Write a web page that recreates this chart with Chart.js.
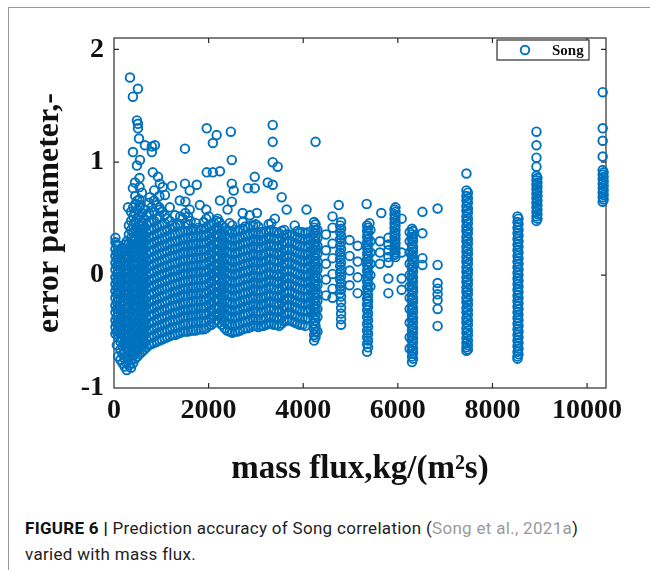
<!DOCTYPE html>
<html><head><meta charset="utf-8">
<script src="https://cdn.jsdelivr.net/npm/chart.js@4.4.1/dist/chart.umd.min.js"></script>
<style>
html,body{margin:0;padding:0;background:#fff;width:650px;height:570px;overflow:hidden;}
#frame{position:absolute;left:8px;top:7px;width:660px;height:580px;border-left:1px solid #999;border-top:1px solid #999;}
#wrap{position:absolute;left:0;top:0;width:650px;height:500px;}
#cap{position:absolute;left:25px;top:515px;font-family:Roboto,'Liberation Sans',sans-serif;font-size:17px;letter-spacing:0.3px;line-height:26px;color:#222;}
#cap b{color:#111;}
#cap span{color:#9a9a9a;}
</style></head><body>
<div id="frame"></div>
<div id="wrap"><canvas id="c" width="650" height="500"></canvas></div>
<div id="cap"><b>FIGURE 6 |</b> Prediction accuracy of Song correlation (<span>Song et al., 2021a</span>)<br>varied with mass flux.</div>
<script>
const seriesName = 'Song';
const xTicks = [0, 2000, 4000, 6000, 8000, 10000];
const yTicks = [-1, 0, 1, 2];

// mass flux of each vertical group of measurements
const columnFlux = [30,90,180,270,360,450,540,640,740,850,960,1070,1180,1290,1400,1510,1620,1730,1840,1950,2060,2170,2280,2390,2500,2610,2720,2830,2940,3050,3160,3270,3380,3490,3600,3710,3820,3930,4040,4150,
  4230,4300,4480,4620,4800,4980,5150,5350,5420,5620,5800,5950,6080,6250,6300,6520,6840,7450,8530,8930,10330];

// error parameter values in each group (same order as columnFlux)
const columnError = [
[-0.52,-0.46,-0.4,-0.33,-0.27,-0.2,-0.14,-0.08,-0.02,0.05,0.11,0.17,0.23,0.29,0.33],
[-0.72,-0.55,-0.49,-0.42,-0.36,-0.3,-0.22,-0.16,-0.1,-0.04,0.02,0.09,0.15,0.2,0.26],
[-0.78,-0.7,-0.63,-0.57,-0.5,-0.44,-0.38,-0.31,-0.25,-0.19,-0.12,-0.06,0.0,0.07,0.13,0.2,0.24],
[-0.84,-0.78,-0.72,-0.65,-0.59,-0.53,-0.47,-0.4,-0.34,-0.28,-0.21,-0.15,-0.09,-0.02,0.04,0.1,0.17,0.23,0.3],
[-0.82,-0.75,-0.68,-0.62,-0.56,-0.5,-0.43,-0.37,-0.31,-0.24,-0.18,-0.12,-0.05,0.01,0.07,0.14,0.2,0.27,0.33,0.4,0.48,0.56],
[-0.74,-0.68,-0.61,-0.55,-0.49,-0.42,-0.36,-0.3,-0.23,-0.17,-0.11,-0.04,0.02,0.08,0.15,0.21,0.27,0.34,0.4,0.47,0.55,0.63,0.7],
[-0.7,-0.64,-0.58,-0.51,-0.45,-0.39,-0.32,-0.26,-0.2,-0.13,-0.07,-0.01,0.06,0.12,0.18,0.25,0.31,0.37,0.44,0.52,0.6,0.67,0.78,0.86],
[-0.66,-0.6,-0.53,-0.47,-0.41,-0.34,-0.28,-0.22,-0.15,-0.09,-0.03,0.04,0.1,0.16,0.23,0.29,0.35,0.42,0.5,0.58],
[-0.62,-0.55,-0.49,-0.43,-0.36,-0.3,-0.24,-0.17,-0.11,-0.05,0.02,0.08,0.14,0.21,0.27,0.33,0.4,0.47,0.55,0.64],
[-0.6,-0.54,-0.47,-0.41,-0.35,-0.28,-0.22,-0.16,-0.09,-0.03,0.03,0.1,0.16,0.22,0.29,0.35,0.41,0.48,0.56,0.66,0.75],
[-0.58,-0.51,-0.45,-0.39,-0.32,-0.26,-0.2,-0.13,-0.07,-0.01,0.06,0.12,0.18,0.25,0.31,0.37,0.44,0.52,0.6,0.7],
[-0.56,-0.5,-0.43,-0.37,-0.31,-0.24,-0.18,-0.12,-0.05,0.01,0.07,0.14,0.2,0.26,0.33,0.39,0.46,0.53],
[-0.54,-0.48,-0.41,-0.35,-0.29,-0.22,-0.16,-0.1,-0.03,0.03,0.09,0.16,0.22,0.28,0.35,0.41,0.48,0.6],
[-0.53,-0.46,-0.4,-0.34,-0.27,-0.21,-0.15,-0.08,-0.02,0.04,0.11,0.17,0.23,0.3,0.36,0.43],
[-0.51,-0.45,-0.38,-0.32,-0.26,-0.19,-0.13,-0.07,0.0,0.06,0.12,0.19,0.25,0.31,0.38,0.45,0.52],
[-0.5,-0.44,-0.37,-0.31,-0.25,-0.18,-0.12,-0.06,0.01,0.07,0.13,0.2,0.26,0.32,0.39,0.46,0.55,0.65],
[-0.49,-0.43,-0.36,-0.3,-0.24,-0.17,-0.11,-0.05,0.02,0.08,0.14,0.21,0.27,0.33,0.4,0.48],
[-0.49,-0.42,-0.36,-0.3,-0.23,-0.17,-0.11,-0.04,0.02,0.08,0.15,0.21,0.27,0.34,0.4,0.46],
[-0.48,-0.42,-0.35,-0.29,-0.23,-0.16,-0.1,-0.04,0.03,0.09,0.15,0.22,0.28,0.34,0.41],
[-0.47,-0.41,-0.35,-0.28,-0.22,-0.16,-0.09,-0.03,0.03,0.1,0.16,0.22,0.29,0.35,0.42,0.5,0.58],
[-0.44,-0.38,-0.31,-0.25,-0.19,-0.12,-0.06,0.0,0.07,0.13,0.19,0.26,0.32,0.38,0.45],
[-0.4,-0.34,-0.28,-0.21,-0.15,-0.09,-0.02,0.04,0.1,0.17,0.23,0.29,0.36,0.42,0.48],
[-0.44,-0.38,-0.32,-0.25,-0.19,-0.13,-0.06,0.0,0.06,0.13,0.19,0.25,0.32,0.38,0.44],
[-0.49,-0.43,-0.36,-0.3,-0.24,-0.17,-0.11,-0.05,0.02,0.08,0.14,0.21,0.27,0.33,0.4],
[-0.51,-0.45,-0.38,-0.32,-0.26,-0.19,-0.13,-0.07,0.0,0.06,0.12,0.19,0.25,0.31,0.38,0.44],
[-0.5,-0.44,-0.37,-0.31,-0.25,-0.18,-0.12,-0.06,0.01,0.07,0.13,0.2,0.26,0.32,0.39],
[-0.48,-0.42,-0.35,-0.29,-0.23,-0.16,-0.1,-0.04,0.03,0.09,0.15,0.22,0.28,0.34,0.41,0.47],
[-0.47,-0.41,-0.34,-0.28,-0.22,-0.15,-0.09,-0.03,0.04,0.1,0.16,0.23,0.29,0.35,0.42],
[-0.45,-0.39,-0.32,-0.26,-0.2,-0.13,-0.07,-0.01,0.06,0.12,0.18,0.25,0.31,0.37,0.44],
[-0.46,-0.4,-0.33,-0.27,-0.21,-0.14,-0.08,-0.02,0.05,0.11,0.17,0.24,0.3,0.36,0.43],
[-0.45,-0.39,-0.32,-0.26,-0.2,-0.13,-0.07,-0.01,0.06,0.12,0.18,0.25,0.31,0.37],
[-0.43,-0.37,-0.3,-0.24,-0.18,-0.11,-0.05,0.01,0.08,0.14,0.2,0.27,0.33,0.39,0.45],
[-0.44,-0.38,-0.31,-0.25,-0.19,-0.12,-0.06,0.0,0.07,0.13,0.19,0.26,0.32,0.38],
[-0.45,-0.39,-0.32,-0.26,-0.2,-0.13,-0.07,-0.01,0.06,0.12,0.18,0.25,0.31,0.37],
[-0.41,-0.35,-0.28,-0.22,-0.16,-0.09,-0.03,0.03,0.1,0.16,0.22,0.29,0.35,0.4],
[-0.4,-0.34,-0.27,-0.21,-0.15,-0.08,-0.02,0.04,0.11,0.17,0.23,0.3,0.36],
[-0.42,-0.36,-0.29,-0.23,-0.17,-0.1,-0.04,0.02,0.09,0.15,0.21,0.28,0.34],
[-0.44,-0.38,-0.31,-0.25,-0.19,-0.12,-0.06,0.0,0.07,0.13,0.19,0.26,0.32,0.38],
[-0.45,-0.39,-0.32,-0.26,-0.2,-0.13,-0.07,-0.01,0.06,0.12,0.18,0.25,0.31,0.37],
[-0.3,-0.24,-0.17,-0.11,-0.05,0.02,0.08,0.14,0.21,0.27,0.33],
[0.47,0.42,0.37,0.32,0.27,0.22,0.17,0.12,0.07,0.02,-0.03,-0.08,-0.13,-0.18,-0.23,-0.28,-0.33,-0.38,-0.43,-0.48,-0.53,-0.58],
[0.4,0.33,0.26,0.19,0.12,0.05,-0.02,-0.09,-0.16,-0.23,-0.3,-0.37,-0.5],
[0.36,0.22,0.1,-0.04,-0.18],
[0.42,0.28,0.15,0.01,-0.12,-0.2],
[0.47,0.41,0.35,0.29,0.23,0.17,0.11,0.05,-0.01,-0.07,-0.13,-0.19,-0.24,-0.29,-0.34,-0.39,-0.44],
[0.31,0.17,0.04,-0.09],
[0.26,0.12,-0.02,-0.16],
[0.44,0.39,0.34,0.29,0.24,0.19,0.14,0.09,0.04,-0.01,-0.06,-0.11,-0.16,-0.21,-0.26,-0.31,-0.37,-0.43,-0.49,-0.55,-0.61,-0.68],
[0.4,0.3,0.2,0.1,0.0,-0.1],
[0.3,0.2,0.1],
[0.33,0.27,0.22,0.16,0.11,-0.03,-0.16],
[0.6,0.56,0.52,0.48,0.44,0.4,0.36,0.32,0.28,0.24,0.2,0.16],
[0.5,0.2,-0.03,-0.13],
[0.38,0.3,0.2,0.1,0.0,-0.1,-0.2,-0.3,-0.42,-0.55,-0.65],
[0.41,0.36,0.32,0.27,0.23,0.18,0.14,0.09,0.05,0.0,-0.04,-0.09,-0.13,-0.18,-0.22,-0.27,-0.31,-0.36,-0.4,-0.45,-0.49,-0.54,-0.58,-0.63,-0.67,-0.72,-0.77],
[0.56,0.37,0.15,0.09],
[0.59,0.09,-0.07,-0.12,-0.17,-0.22,-0.3,-0.45],
[0.9,0.75,0.7,0.66,0.61,0.57,0.52,0.48,0.43,0.39,0.34,0.3,0.25,0.21,0.16,0.12,0.07,0.03,-0.02,-0.06,-0.11,-0.15,-0.2,-0.24,-0.29,-0.33,-0.38,-0.42,-0.47,-0.51,-0.56,-0.6,-0.64,-0.67],
[0.52,0.47,0.42,0.37,0.32,0.27,0.22,0.17,0.12,0.07,0.02,-0.03,-0.08,-0.13,-0.18,-0.23,-0.28,-0.33,-0.38,-0.43,-0.48,-0.53,-0.58,-0.63,-0.68,-0.72,-0.74],
[1.27,1.15,1.04,0.96,0.88,0.84,0.8,0.76,0.72,0.68,0.64,0.6,0.56,0.52,0.48],
[1.62,1.3,1.19,1.05,0.93,0.89,0.85,0.81,0.77,0.73,0.69,0.65]
];

// second, interleaved set of measurement groups
const columnFlux2 = [60,135,225,315,405,495,590,690,795,905,1015,1125,1235,1345,1455,1565,1675,1785,1895,2005,2115,2225,2335,2445,2555,2665,2775,2885,2995,3105,3215,3325,3435,3545,3655,3765,3875,3985,4095,
  4260,4780,5370,5930,6320,7480,8550,8950,10350];

const columnError2 = [
[-0.62,-0.5,-0.43,-0.37,-0.3,-0.24,-0.17,-0.11,-0.05,0.01,0.08,0.14,0.2,0.27],
[-0.75,-0.66,-0.59,-0.52,-0.46,-0.39,-0.33,-0.27,-0.2,-0.14,-0.08,-0.01,0.05,0.11,0.18,0.22],
[-0.81,-0.74,-0.68,-0.61,-0.55,-0.49,-0.42,-0.36,-0.3,-0.23,-0.17,-0.11,-0.04,0.02,0.08,0.15,0.21,0.27],
[-0.8,-0.74,-0.67,-0.61,-0.55,-0.48,-0.42,-0.36,-0.29,-0.23,-0.17,-0.1,-0.04,0.02,0.09,0.15,0.21,0.28,0.36,0.44],
[-0.78,-0.71,-0.65,-0.59,-0.52,-0.46,-0.4,-0.33,-0.27,-0.21,-0.14,-0.08,-0.02,0.05,0.11,0.17,0.24,0.3,0.37,0.44,0.52,0.6],
[-0.72,-0.66,-0.6,-0.53,-0.47,-0.41,-0.34,-0.28,-0.22,-0.15,-0.09,-0.03,0.04,0.1,0.16,0.23,0.29,0.36,0.42,0.5,0.58,0.66],
[-0.68,-0.62,-0.55,-0.49,-0.43,-0.36,-0.3,-0.24,-0.17,-0.11,-0.05,0.02,0.08,0.14,0.21,0.27,0.33,0.4,0.47,0.55],
[-0.64,-0.57,-0.51,-0.45,-0.38,-0.32,-0.26,-0.19,-0.13,-0.07,0.0,0.06,0.12,0.19,0.25,0.31,0.38,0.45,0.53],
[-0.61,-0.55,-0.48,-0.42,-0.36,-0.29,-0.23,-0.17,-0.1,-0.04,0.02,0.09,0.15,0.21,0.28,0.34,0.4,0.47,0.6],
[-0.59,-0.52,-0.46,-0.4,-0.33,-0.27,-0.21,-0.14,-0.08,-0.02,0.05,0.11,0.17,0.24,0.3,0.36,0.43,0.5,0.62],
[-0.57,-0.5,-0.44,-0.38,-0.31,-0.25,-0.19,-0.12,-0.06,0.0,0.07,0.13,0.19,0.26,0.32,0.38,0.45,0.56],
[-0.55,-0.49,-0.42,-0.36,-0.3,-0.23,-0.17,-0.11,-0.04,0.02,0.08,0.15,0.21,0.27,0.34,0.4,0.5],
[-0.53,-0.47,-0.4,-0.34,-0.28,-0.21,-0.15,-0.09,-0.02,0.04,0.1,0.17,0.23,0.29,0.36,0.44],
[-0.52,-0.46,-0.39,-0.33,-0.27,-0.2,-0.14,-0.08,-0.01,0.05,0.11,0.18,0.24,0.3,0.37,0.45],
[-0.5,-0.44,-0.37,-0.31,-0.25,-0.18,-0.12,-0.06,0.01,0.07,0.13,0.2,0.26,0.32,0.39,0.5],
[-0.5,-0.43,-0.37,-0.31,-0.24,-0.18,-0.12,-0.05,0.01,0.07,0.14,0.2,0.26,0.33,0.39,0.45,0.52],
[-0.49,-0.42,-0.36,-0.3,-0.23,-0.17,-0.11,-0.04,0.02,0.08,0.15,0.21,0.27,0.34,0.41],
[-0.48,-0.42,-0.35,-0.29,-0.23,-0.16,-0.1,-0.04,0.03,0.09,0.15,0.22,0.28,0.34,0.42],
[-0.48,-0.41,-0.35,-0.29,-0.22,-0.16,-0.1,-0.03,0.03,0.09,0.16,0.22,0.28,0.35,0.41,0.47],
[-0.45,-0.39,-0.33,-0.26,-0.2,-0.14,-0.07,-0.01,0.05,0.12,0.18,0.24,0.31,0.37,0.44,0.52],
[-0.42,-0.36,-0.3,-0.23,-0.17,-0.11,-0.04,0.02,0.08,0.15,0.21,0.27,0.34,0.4,0.46],
[-0.42,-0.36,-0.29,-0.23,-0.17,-0.1,-0.04,0.02,0.09,0.15,0.21,0.28,0.34,0.41,0.47],
[-0.47,-0.41,-0.34,-0.28,-0.22,-0.15,-0.09,-0.03,0.04,0.1,0.16,0.23,0.29,0.35,0.42],
[-0.5,-0.44,-0.37,-0.31,-0.25,-0.18,-0.12,-0.06,0.01,0.07,0.13,0.2,0.26,0.32,0.39,0.46],
[-0.5,-0.44,-0.37,-0.31,-0.25,-0.18,-0.12,-0.06,0.01,0.07,0.13,0.2,0.26,0.32,0.4],
[-0.49,-0.43,-0.36,-0.3,-0.24,-0.17,-0.11,-0.05,0.02,0.08,0.14,0.21,0.27,0.33,0.4],
[-0.47,-0.41,-0.35,-0.28,-0.22,-0.16,-0.09,-0.03,0.03,0.1,0.16,0.22,0.29,0.35,0.43],
[-0.46,-0.4,-0.33,-0.27,-0.21,-0.14,-0.08,-0.02,0.05,0.11,0.17,0.24,0.3,0.36,0.44],
[-0.45,-0.39,-0.33,-0.26,-0.2,-0.14,-0.07,-0.01,0.05,0.12,0.18,0.24,0.31,0.37,0.45],
[-0.45,-0.39,-0.33,-0.26,-0.2,-0.14,-0.07,-0.01,0.05,0.12,0.18,0.24,0.31,0.38],
[-0.44,-0.38,-0.31,-0.25,-0.19,-0.12,-0.06,0.0,0.07,0.13,0.19,0.26,0.32,0.39],
[-0.43,-0.37,-0.31,-0.24,-0.18,-0.12,-0.05,0.01,0.07,0.14,0.2,0.26,0.33,0.4,0.46],
[-0.44,-0.38,-0.32,-0.25,-0.19,-0.13,-0.06,0.0,0.06,0.13,0.19,0.25,0.32,0.38],
[-0.43,-0.37,-0.3,-0.24,-0.18,-0.11,-0.05,0.01,0.08,0.14,0.2,0.27,0.33,0.39],
[-0.4,-0.34,-0.28,-0.21,-0.15,-0.09,-0.02,0.04,0.1,0.17,0.23,0.29,0.36],
[-0.41,-0.35,-0.28,-0.22,-0.16,-0.09,-0.03,0.03,0.1,0.16,0.22,0.29,0.35],
[-0.43,-0.37,-0.3,-0.24,-0.18,-0.11,-0.05,0.01,0.08,0.14,0.2,0.27,0.33,0.39],
[-0.44,-0.38,-0.32,-0.25,-0.19,-0.13,-0.06,0.0,0.06,0.13,0.19,0.25,0.32,0.38],
[-0.38,-0.32,-0.25,-0.19,-0.13,-0.06,0.0,0.06,0.13,0.19,0.25,0.32,0.38],
[0.45,0.4,0.35,0.3,0.25,0.2,0.15,0.1,0.05,0.0,-0.05,-0.1,-0.15,-0.2,-0.25,-0.3,-0.35,-0.4,-0.45,-0.5,-0.55],
[0.44,0.38,0.32,0.26,0.2,0.14,0.08,0.02,-0.04,-0.1,-0.16],
[0.42,0.37,0.32,0.27,0.22,0.17,0.12,0.07,0.02,-0.03,-0.08,-0.13,-0.18,-0.23,-0.28,-0.34,-0.4,-0.46,-0.52,-0.58,-0.64],
[0.58,0.54,0.5,0.46,0.42,0.38,0.34,0.3,0.26,0.22,0.18],
[0.39,0.34,0.3,0.25,0.21,0.16,0.12,0.07,0.03,-0.02,-0.06,-0.11,-0.15,-0.2,-0.24,-0.29,-0.33,-0.38,-0.42,-0.47,-0.51,-0.56,-0.6,-0.65,-0.69,-0.74],
[0.73,0.68,0.64,0.59,0.55,0.5,0.46,0.41,0.37,0.32,0.28,0.23,0.19,0.14,0.1,0.05,0.01,-0.04,-0.08,-0.13,-0.17,-0.22,-0.26,-0.31,-0.35,-0.4,-0.44,-0.49,-0.53,-0.58,-0.62,-0.66],
[0.5,0.45,0.4,0.35,0.3,0.25,0.2,0.15,0.1,0.05,0.0,-0.05,-0.1,-0.15,-0.2,-0.25,-0.3,-0.35,-0.4,-0.45,-0.5,-0.55,-0.6,-0.65,-0.7],
[0.86,0.82,0.78,0.74,0.7,0.66,0.62,0.58,0.54,0.5],
[0.91,0.87,0.83,0.79,0.75,0.71,0.67]
];

// isolated points [mass flux, error parameter]
const scatterPairs = [
[506,2.18],[338,1.75],[506,1.65],[400,1.58],[485,1.37],[506,1.34],[506,1.3],[528,1.21],[654,1.15],[800,1.14],
[865,1.15],[800,1.09],[400,1.09],[549,1.02],[485,0.97],[1500,1.12],[1960,1.3],[2170,1.24],[2090,1.17],[2470,1.27],
[3355,1.33],[3355,1.18],[3355,1.0],[3460,0.96],[2490,1.02],[4260,1.18],[1960,0.91],[2090,0.91],[2240,0.92],[2975,0.87],
[3250,0.82],[3355,0.8],[3545,0.69],[3650,0.58],[1500,0.81],[1750,0.8],[2490,0.81],[2530,0.75],[930,0.87],[970,0.81],
[1030,0.78],[400,0.77],[590,0.73],[820,0.91],[2830,0.77],[2975,0.77],[2720,0.55],[2870,0.53],[3020,0.55],[3400,0.5],
[3820,0.44],[2240,0.66],[2490,0.65],[2400,0.58],[2190,0.5],[4070,0.58],[4750,0.62],[4620,0.52],[5340,0.63],[5650,0.55],
[5400,0.46],[1076,0.71],[1390,0.66],[1600,0.75],[1224,0.79],[760,0.69],[550,0.62],[295,0.6],[443,0.82],[1600,0.58],
[1815,0.62],[1290,0.53],[970,0.58]
];

const points = [];
columnFlux.forEach((x, i) => columnError[i].forEach(y => points.push({x, y})));
columnFlux2.forEach((x, i) => columnError2[i].forEach(y => points.push({x, y})));
scatterPairs.forEach(p => points.push({x: p[0], y: p[1]}));

const BLUE = '#0072BD';
const AXIS = '#2b2b2b';

const boxPlugin = {
  id: 'boxPlugin',
  beforeDatasetsDraw(chart) {
    const {ctx, chartArea: a, scales: {x, y}} = chart;
    ctx.save();
    ctx.strokeStyle = AXIS; ctx.lineWidth = 1.2;
    ctx.strokeRect(a.left, a.top, a.right - a.left, a.bottom - a.top);
    ctx.beginPath();
    xTicks.forEach(v => {
      const p = x.getPixelForValue(v);
      if (p <= a.left + 1 || p >= a.right - 1) return;
      ctx.moveTo(p, a.bottom); ctx.lineTo(p, a.bottom - 5);
      ctx.moveTo(p, a.top); ctx.lineTo(p, a.top + 5);
    });
    yTicks.forEach(v => {
      const p = y.getPixelForValue(v);
      if (p <= a.top + 1 || p >= a.bottom - 1) return;
      ctx.moveTo(a.left, p); ctx.lineTo(a.left + 5, p);
      ctx.moveTo(a.right, p); ctx.lineTo(a.right - 5, p);
    });
    ctx.stroke();
    ctx.restore();
  },
  afterDatasetsDraw(chart) {
    const {ctx, chartArea: a} = chart;
    const ds = chart.data.datasets[0];
    const bx = a.right - 109, by = a.top + 2, bw = 92, bh = 20;
    ctx.save();
    ctx.fillStyle = '#fff';
    ctx.fillRect(bx, by, bw, bh);
    ctx.strokeStyle = AXIS; ctx.lineWidth = 1.2;
    ctx.strokeRect(bx, by, bw, bh);
    ctx.beginPath();
    ctx.arc(bx + 28, by + bh / 2, ds.pointRadius, 0, Math.PI * 2);
    ctx.strokeStyle = ds.borderColor; ctx.lineWidth = ds.pointBorderWidth;
    ctx.stroke();
    ctx.fillStyle = '#111';
    ctx.font = 'bold 15px "Liberation Serif"';
    ctx.textBaseline = 'middle';
    ctx.fillText(ds.label, bx + 55, by + bh / 2 + 1);
    ctx.restore();
  }
};

new Chart(document.getElementById('c'), {
  type: 'scatter',
  data: {datasets: [{
    label: seriesName, data: points,
    borderColor: BLUE, backgroundColor: 'rgba(0,0,0,0)',
    pointRadius: 4.3, pointBorderWidth: 1.9, pointStyle: 'circle', clip: false
  }]},
  options: {
    responsive: false, animation: false, events: [], devicePixelRatio: 1,
    layout: {padding: {left: 0, right: 44, top: 38, bottom: 0}},
    plugins: {legend: {display: false}, tooltip: {enabled: false}},
    scales: {
      x: {
        type: 'linear', min: 0, max: 10400,
        afterBuildTicks: s => { s.ticks = xTicks.map(v => ({value: v})); },
        afterFit: s => { s.height = 112; },
        grid: {display: false, drawTicks: false}, border: {display: false},
        ticks: {padding: 6, color: '#111', autoSkip: false, maxRotation: 0,
          callback: v => String(v),
          font: {family: 'Liberation Serif', weight: 'bold', size: 28}},
        title: {display: true, text: 'mass flux,kg/(m²s)', color: '#111',
          font: {family: 'Liberation Serif', weight: 'bold', size: 33, lineHeight: 1},
          padding: {top: 0, bottom: 14}}
      },
      y: {
        type: 'linear', min: -1, max: 2.1,
        afterBuildTicks: s => { s.ticks = yTicks.map(v => ({value: v})); },
        afterFit: s => { s.width = 114; },
        grid: {display: false, drawTicks: false}, border: {display: false},
        ticks: {padding: 10, color: '#111', autoSkip: false,
          callback: v => String(v),
          font: {family: 'Liberation Serif', weight: 'bold', size: 28}},
        title: {display: true, text: 'error parameter,-', color: '#111',
          font: {family: 'Liberation Serif', weight: 'bold', size: 32, lineHeight: 1},
          padding: {top: 34, bottom: 0}}
      }
    }
  },
  plugins: [boxPlugin]
});
</script>
</body></html>
